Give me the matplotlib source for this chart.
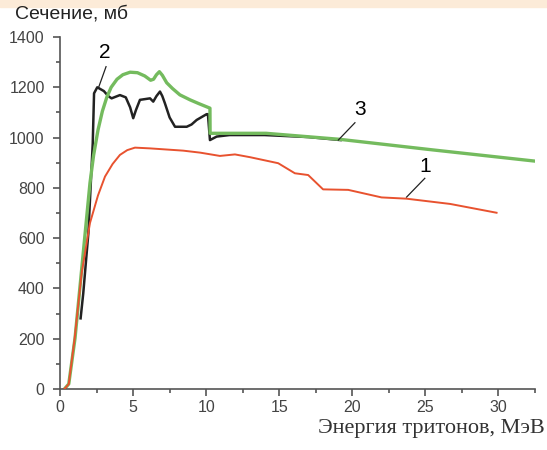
import matplotlib.pyplot as plt
from matplotlib.ticker import MultipleLocator
from matplotlib.patches import Rectangle

# curve 1 (red)
x1 = [0.3, 0.6, 1.0, 1.48, 2.05, 2.6, 3.08, 3.6, 4.1, 4.6, 5.13, 6.16, 8.43, 9.6, 10.94, 11.97,
      13.0, 14.93, 16.07, 16.98, 18.0, 19.72, 22.0, 23.7, 26.7, 29.87]
y1 = [0, 20, 200, 460, 660, 770, 845, 895, 931, 950, 960, 957, 948, 940, 927, 933,
      922, 898, 858, 851, 794, 792, 762, 757, 736, 701]

# curve 2 (black)
x2 = [1.41, 1.59, 1.94, 2.24, 2.33, 2.55, 3.0, 3.3, 3.53, 4.1, 4.5, 4.8, 5.01, 5.2, 5.47, 6.16,
      6.38, 6.6, 6.84, 7.0, 7.18, 7.5, 7.87, 8.67, 9.0, 9.35, 10.03, 10.12, 10.26, 10.72, 11.6, 14.0, 17.0, 19.2]
y2 = [281, 380, 619, 977, 1176, 1200, 1185, 1165, 1156, 1169, 1160, 1120, 1077, 1110, 1150, 1156,
      1143, 1165, 1183, 1165, 1136, 1080, 1043, 1043, 1052, 1070, 1093, 1093, 990, 1004, 1010, 1010, 1002, 990]

# curve 3 (green)
x3 = [0.3, 0.6, 1.03, 2.05, 2.3, 2.6, 2.9, 3.2, 3.5, 3.9, 4.3, 4.8, 5.3, 5.8, 6.2, 6.4, 6.6,
      6.8, 7.0, 7.3, 7.7, 8.2, 8.9, 9.5, 10.26, 10.27, 10.49, 14.1, 19.15, 25.5, 32.4]
y3 = [0, 20, 203, 819, 930, 1030, 1105, 1160, 1200, 1232, 1250, 1260, 1258, 1245, 1228, 1232, 1250,
      1262, 1248, 1218, 1195, 1170, 1150, 1135, 1117, 1017, 1017, 1017, 993, 951, 907]

labels = ["1", "2", "3"]
label_pos = [(24.97, 885), (3.08, 1340), (20.5, 1112)]
leaders = [((24.96, 838), (23.71, 763)), ((3.15, 1282), (2.62, 1196)),
           ((20.18, 1059), (19.04, 990))]

fig = plt.figure(figsize=(5.47, 4.5), dpi=100)
fig.patches.append(Rectangle((0, 1 - 7 / 450), 1, 7 / 450, transform=fig.transFigure,
                             color="#fcebd8", zorder=0))
ax = fig.add_axes([60 / 547, 1 - 389 / 450, 475 / 547, 352 / 450])

ax.plot(x1, y1, color="#e8522f", lw=1.4, zorder=3)
ax.plot(x3, y3, color="#74bb5e", lw=2.4, zorder=2)
ax.plot(x2, y2, color="#222222", lw=1.8, zorder=1)

for t, (tx, ty), (p0, p1) in zip(labels, label_pos, leaders):
    ax.text(tx, ty, t, fontsize=15, family="Liberation Sans", ha="center", va="center")
    ax.plot([p0[0], p1[0]], [p0[1], p1[1]], color="#222222", lw=0.9)

ax.set_xlim(0, 32.5)
ax.set_ylim(0, 1400)
ax.xaxis.set_major_locator(MultipleLocator(5))
ax.xaxis.set_minor_locator(MultipleLocator(2.5))
ax.yaxis.set_major_locator(MultipleLocator(200))
ax.yaxis.set_minor_locator(MultipleLocator(100))

for s in ["top", "right"]:
    ax.spines[s].set_visible(False)
for s in ["left", "bottom"]:
    ax.spines[s].set_color("#555555")
    ax.spines[s].set_linewidth(1.2)

ax.tick_params(which="major", length=5, width=1.2, color="#555555",
               labelsize=11.5, labelcolor="#444444")
ax.tick_params(axis="y", which="major", pad=6)
ax.tick_params(axis="x", which="major", pad=3)
ax.tick_params(which="minor", length=3, width=1.2, color="#555555")
for lab in ax.get_xticklabels() + ax.get_yticklabels():
    lab.set_family("Liberation Sans")

fig.text(15 / 547, 1 - 14 / 450, "Сечение, мб", fontsize=14, family="Liberation Sans",
         ha="left", va="center", color="#222222")
fig.text(545 / 547, 1 - 433 / 450, "Энергия тритонов, МэВ", fontsize=16,
         family="Liberation Serif", ha="right", va="baseline", color="#333333")

fig.savefig("out.png", dpi=100)
